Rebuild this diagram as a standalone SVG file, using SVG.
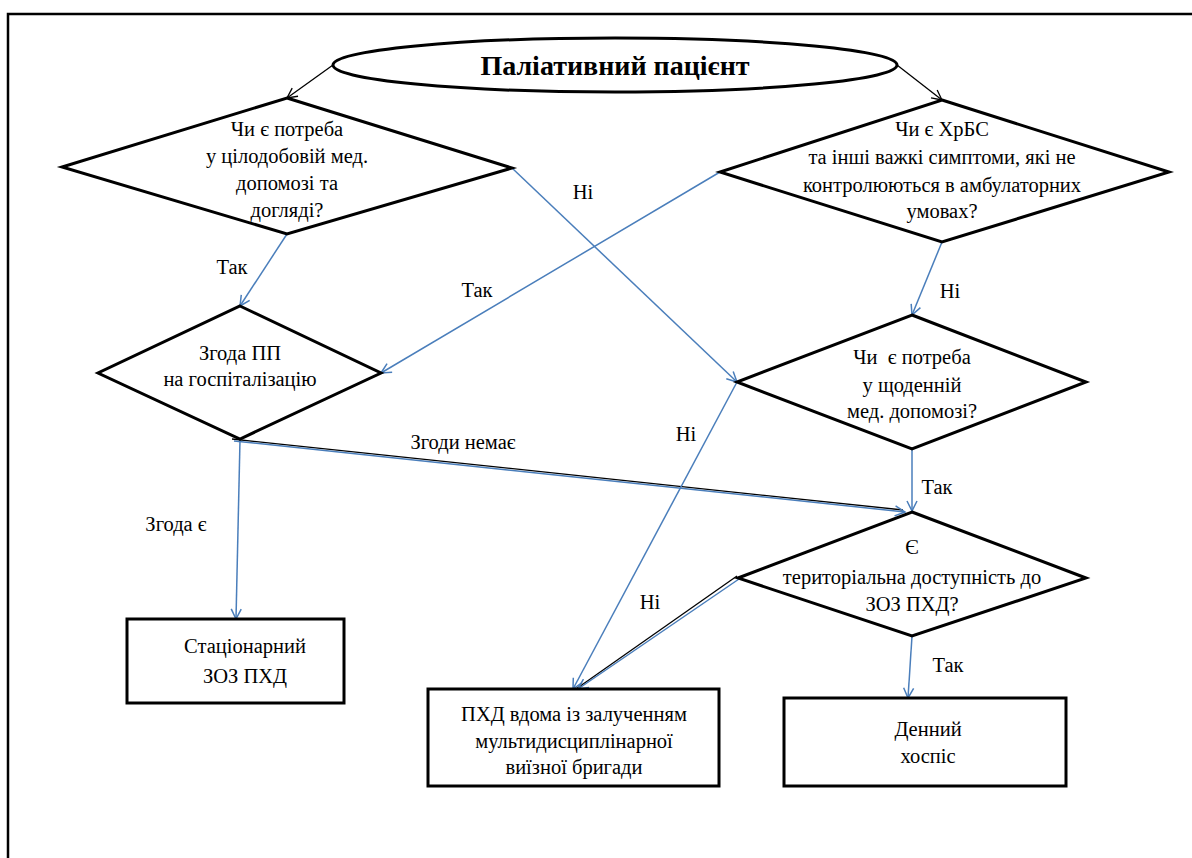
<svg xmlns="http://www.w3.org/2000/svg" width="1192" height="858" viewBox="0 0 1192 858" font-family="'Liberation Serif', 'DejaVu Serif', 'Times New Roman', serif">
<style>
.shape{fill:#fff;stroke:#000;stroke-width:3;stroke-linejoin:miter}
.t{font-family:'Liberation Serif','DejaVu Serif','Times New Roman',serif;font-size:20.5px;fill:#000;text-anchor:middle}
.title{font-family:'Liberation Serif','DejaVu Serif','Times New Roman',serif;font-size:28px;font-weight:bold;fill:#000;text-anchor:middle}
.blue{fill:none;stroke:#4A7EBB;stroke-width:1.5}
.black{fill:none;stroke:#000;stroke-width:1.3}
</style>
<defs>
<marker id="ab" viewBox="0 0 12 12" refX="11" refY="6" markerWidth="12" markerHeight="12" markerUnits="userSpaceOnUse" orient="auto">
<path d="M1,1 L11,6 L1,11" fill="none" stroke="#4A7EBB" stroke-width="1.5"/>
</marker>
<marker id="ak" viewBox="0 0 12 12" refX="11" refY="6" markerWidth="12" markerHeight="12" markerUnits="userSpaceOnUse" orient="auto">
<path d="M1,1 L11,6 L1,11" fill="none" stroke="#000" stroke-width="1.3"/>
</marker>
</defs>
<rect x="0" y="0" width="1192" height="858" fill="#fff"/>
<path d="M8,870 L8,14 L1192,14" fill="none" stroke="#000" stroke-width="2.5"/>

<g id="connectors">
<line class="black" x1="333" y1="65" x2="287" y2="98" marker-end="url(#ak)"/>
<line class="black" x1="897" y1="65" x2="942" y2="100" marker-end="url(#ak)"/>
<line class="blue" x1="287" y1="234" x2="240" y2="306" marker-end="url(#ab)"/>
<line class="blue" x1="512" y1="168" x2="737" y2="382" marker-end="url(#ab)"/>
<line class="blue" x1="720" y1="172" x2="381" y2="373" marker-end="url(#ab)"/>
<line class="blue" x1="942" y1="242" x2="912" y2="315" marker-end="url(#ab)"/>
<line class="blue" x1="240" y1="440" x2="236" y2="619" marker-end="url(#ab)"/>
<line class="black" x1="232" y1="439" x2="903" y2="510"/>
<line class="blue" x1="234" y1="441" x2="905" y2="512" marker-end="url(#ab)"/>
<line class="blue" x1="912" y1="449" x2="912" y2="511" marker-end="url(#ab)"/>
<line class="blue" x1="737" y1="382" x2="573" y2="689" marker-end="url(#ab)"/>
<line class="black" x1="737" y1="576" x2="576" y2="689"/>
<line class="blue" x1="739" y1="579" x2="578" y2="689" marker-end="url(#ab)"/>
<line class="blue" x1="912" y1="636" x2="908" y2="698" marker-end="url(#ab)"/>
<text class="t" x="232" y="274">Так</text>
<text class="t" x="583" y="199">Ні</text>
<text class="t" x="477" y="297">Так</text>
<text class="t" x="950" y="298">Ні</text>
<text class="t" x="463" y="449">Згоди немає</text>
<text class="t" x="176" y="531">Згода є</text>
<text class="t" x="686" y="441">Ні</text>
<text class="t" x="937" y="494">Так</text>
<text class="t" x="650" y="609">Ні</text>
<text class="t" x="948" y="672">Так</text>
</g>

<g id="start">
<ellipse class="shape" cx="615" cy="65" rx="282" ry="27"/>
<text class="title" x="615" y="75">Паліативний пацієнт</text>
</g>

<g id="d1">
<polygon class="shape" points="287,98 512,168 287,234 62,167"/>
<text class="t" x="287" y="136">Чи є потреба</text>
<text class="t" x="287" y="163">у цілодобовій мед.</text>
<text class="t" x="287" y="190">допомозі та</text>
<text class="t" x="287" y="217">догляді?</text>
</g>

<g id="d2">
<polygon class="shape" points="942,100 1169,172 942,242 720,172"/>
<text class="t" x="942" y="136">Чи є ХрБС</text>
<text class="t" x="942" y="164">та інші важкі симптоми, які не</text>
<text class="t" x="942" y="192">контролюються в амбулаторних</text>
<text class="t" x="942" y="218">умовах?</text>
</g>

<g id="d3">
<polygon class="shape" points="240,306 381,373 240,439 98,373"/>
<text class="t" x="240" y="360">Згода ПП</text>
<text class="t" x="240" y="386">на госпіталізацію</text>
</g>

<g id="d4">
<polygon class="shape" points="912,315 1086,382 912,449 737,382"/>
<text class="t" x="912" y="364" xml:space="preserve">Чи  є потреба</text>
<text class="t" x="912" y="392">у щоденній</text>
<text class="t" x="912" y="418">мед. допомозі?</text>
</g>

<g id="d5">
<polygon class="shape" points="912,512 1086,578 912,636 738,578"/>
<text class="t" x="912" y="554">Є</text>
<text class="t" x="912" y="584">територіальна доступність до</text>
<text class="t" x="912" y="611">ЗОЗ ПХД?</text>
</g>

<g id="r1">
<rect class="shape" x="127" y="619" width="217" height="84"/>
<text class="t" x="245" y="653">Стаціонарний</text>
<text class="t" x="245" y="683">ЗОЗ ПХД</text>
</g>

<g id="r2">
<rect class="shape" x="428" y="689" width="291" height="97"/>
<text class="t" x="574" y="721">ПХД вдома із залученням</text>
<text class="t" x="574" y="748">мультидисциплінарної</text>
<text class="t" x="574" y="774">виїзної бригади</text>
</g>

<g id="r3">
<rect class="shape" x="784" y="698" width="282" height="88"/>
<text class="t" x="928" y="736">Денний</text>
<text class="t" x="928" y="763">хоспіс</text>
</g>
</svg>
